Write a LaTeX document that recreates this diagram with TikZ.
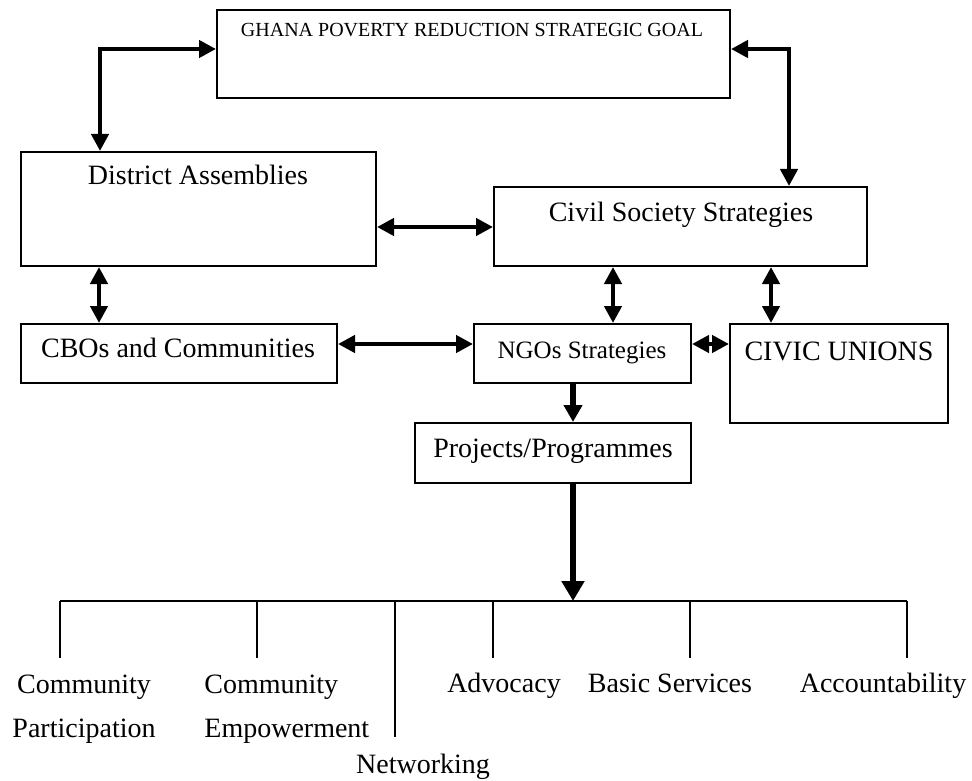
\documentclass[tikz,border=0pt]{standalone}
\usepackage{fontspec}
\setmainfont{Liberation Serif}
\usetikzlibrary{positioning,fit,arrows.meta}
\tikzset{
  box/.style={draw, line width=1pt, inner sep=0pt},
  lbl/.style={font=\fontsize{14}{22}\selectfont, inner sep=0pt, anchor=base},
  link/.style={line width=2.3pt, {Triangle[length=8.5pt,width=8.5pt]}-{Triangle[length=8.5pt,width=8.5pt]}},
  feed/.style={line width=3.4pt, -{Triangle[length=8.5pt,width=9pt]}},
  branch/.style={line width=0.7pt}
}

\begin{document}
\begin{tikzpicture}[x=0.5pt,y=-0.5pt]
\useasboundingbox (0,0) rectangle (972,780);
% boxes
\node[box, fit={(217,10) (730,98)}] (ghana) {};
\node[box, fit={(21,152) (376,266)}] (district) {};
\node[box, fit={(494,187) (867,266)}] (civil) {};
\node[box, fit={(21,324) (337,383)}] (cbos) {};
\node[box, fit={(474,324) (691,383)}] (ngos) {};
\node[box, fit={(730,324) (948,423)}] (civic) {};
\node[box, fit={(415,423) (691,483)}] (projects) {};
      \node[lbl, font=\fontsize{10}{12}\selectfont] (ghanaT) at (472,37) {GHANA POVERTY REDUCTION STRATEGIC GOAL};
      \node[lbl] (districtT) at (198,185) {District Assemblies};
      \node[lbl] (civilT) at (681,222) {Civil Society Strategies};
      \node[lbl] (cbosT) at (178,357) {CBOs and Communities};
      \node[lbl, font=\fontsize{12.5}{15}\selectfont] (ngosT) at (582,358) {NGOs Strategies};
      \node[lbl] (civicT) at (839,360) {CIVIC UNIONS};
      \node[lbl] (projectsT) at (553,457) {Projects/Programmes};
% arrows between boxes
\draw[link] (ghana.west |- 0,49) -| (district.north -| 100,0);
\draw[link] (ghana.east |- 0,49) -| (civil.north -| 789,0);
\draw[link] (district.east |- 0,227) -- (civil.west |- 0,227);
\draw[link] (district.south -| 99,0) -- (cbos.north -| 99,0);
\draw[link] (civil.south -| 613,0) -- (ngos.north -| 613,0);
\draw[link] (civil.south -| 771,0) -- (civic.north -| 771,0);
\draw[link] (cbos.east |- 0,344) -- (ngos.west |- 0,344);
\draw[link] (ngos.east |- 0,344) -- (civic.west |- 0,344);
\draw[feed] (ngos.south -| 573,0) -- (projects.north -| 573,0);
\coordinate (bar) at (573,601);
\draw[feed, -{Triangle[length=10pt,width=11pt]}] (projects.south -| bar) -- (bar);
% the branches
\draw[branch, line width=1pt] (bar -| 60,0) -- (bar -| 907,0);
\foreach \x/\len in {60/57, 257/57, 395/136, 493/57, 690/57, 907/57}
  \draw[branch] (bar -| \x,0) -- ++(0,\len);
      \node[lbl, align=center] (partic) at (84,737) {Community\\Participation};
      \node[lbl, align=left, anchor=base west] (empow) at (204,737) {Community\\Empowerment};
      \node[lbl] (network) at (423,773) {Networking};
      \node[lbl] (advocacy) at (504,692) {Advocacy};
      \node[lbl] (basic) at (670,692) {Basic Services};
      \node[lbl] (account) at (883,692) {Accountability};
\end{tikzpicture}
\end{document}
